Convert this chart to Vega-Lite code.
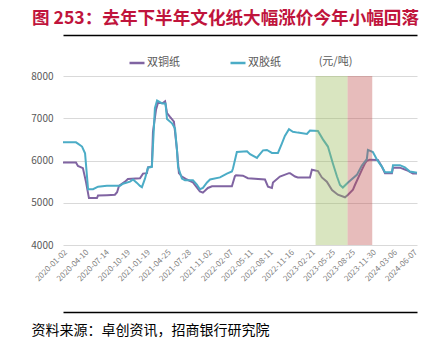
{
  "$schema": "https://vega.github.io/schema/vega-lite/v6.json",
  "width": 354,
  "height": 169,
  "autosize": {"type": "none"},
  "padding": {"left": 63, "top": 76, "right": 22, "bottom": 106},
  "background": "white",
  "config": {
    "view": {"stroke": null},
    "font": "Noto Sans CJK SC"
  },
  "title": {
    "text": "图 253：去年下半年文化纸大幅涨价今年小幅回落",
    "anchor": "start",
    "frame": "group",
    "dx": -31,
    "dy": -3,
    "font": "Noto Sans CJK SC",
    "fontSize": 17.6,
    "fontWeight": "bold",
    "color": "#C0143C"
  },
  "resolve": {"axis": {"x": "independent", "y": "independent"}},
  "datasets": {
    "prices": [
      {"date": "2020-01-02", "series": "双铜纸", "price": 5950},
      {"date": "2020-03-02", "series": "双铜纸", "price": 5950},
      {"date": "2020-03-11", "series": "双铜纸", "price": 5870},
      {"date": "2020-04-03", "series": "双铜纸", "price": 5820},
      {"date": "2020-04-17", "series": "双铜纸", "price": 5500},
      {"date": "2020-05-01", "series": "双铜纸", "price": 5110},
      {"date": "2020-06-07", "series": "双铜纸", "price": 5110},
      {"date": "2020-06-12", "series": "双铜纸", "price": 5170},
      {"date": "2020-07-23", "series": "双铜纸", "price": 5180},
      {"date": "2020-08-29", "series": "双铜纸", "price": 5190},
      {"date": "2020-09-08", "series": "双铜纸", "price": 5250},
      {"date": "2020-09-17", "series": "双铜纸", "price": 5400},
      {"date": "2020-10-15", "series": "双铜纸", "price": 5500},
      {"date": "2020-10-28", "series": "双铜纸", "price": 5560},
      {"date": "2020-12-23", "series": "双铜纸", "price": 5580},
      {"date": "2021-01-06", "series": "双铜纸", "price": 5690},
      {"date": "2021-01-24", "series": "双铜纸", "price": 5700},
      {"date": "2021-01-29", "series": "双铜纸", "price": 5840},
      {"date": "2021-02-16", "series": "双铜纸", "price": 5860},
      {"date": "2021-02-21", "series": "双铜纸", "price": 6680},
      {"date": "2021-03-07", "series": "双铜纸", "price": 7200},
      {"date": "2021-03-16", "series": "双铜纸", "price": 7360},
      {"date": "2021-04-08", "series": "双铜纸", "price": 7360},
      {"date": "2021-04-18", "series": "双铜纸", "price": 7400},
      {"date": "2021-04-27", "series": "双铜纸", "price": 7120},
      {"date": "2021-05-11", "series": "双铜纸", "price": 7030},
      {"date": "2021-05-29", "series": "双铜纸", "price": 6920},
      {"date": "2021-06-12", "series": "双铜纸", "price": 6250},
      {"date": "2021-06-21", "series": "双铜纸", "price": 5700},
      {"date": "2021-07-05", "series": "双铜纸", "price": 5620},
      {"date": "2021-07-28", "series": "双铜纸", "price": 5550},
      {"date": "2021-08-25", "series": "双铜纸", "price": 5480},
      {"date": "2021-09-26", "series": "双铜纸", "price": 5270},
      {"date": "2021-10-10", "series": "双铜纸", "price": 5240},
      {"date": "2021-11-02", "series": "双铜纸", "price": 5350},
      {"date": "2021-11-21", "series": "双铜纸", "price": 5390},
      {"date": "2022-02-21", "series": "双铜纸", "price": 5390},
      {"date": "2022-03-07", "series": "双铜纸", "price": 5630},
      {"date": "2022-03-12", "series": "双铜纸", "price": 5650},
      {"date": "2022-04-13", "series": "双铜纸", "price": 5640},
      {"date": "2022-05-06", "series": "双铜纸", "price": 5580},
      {"date": "2022-07-24", "series": "双铜纸", "price": 5550},
      {"date": "2022-08-07", "series": "双铜纸", "price": 5380},
      {"date": "2022-08-25", "series": "双铜纸", "price": 5350},
      {"date": "2022-08-30", "series": "双铜纸", "price": 5480},
      {"date": "2022-10-01", "series": "双铜纸", "price": 5620},
      {"date": "2022-11-12", "series": "双铜纸", "price": 5700},
      {"date": "2022-11-17", "series": "双铜纸", "price": 5700},
      {"date": "2022-12-10", "series": "双铜纸", "price": 5620},
      {"date": "2022-12-23", "series": "双铜纸", "price": 5600},
      {"date": "2023-02-17", "series": "双铜纸", "price": 5600},
      {"date": "2023-02-26", "series": "双铜纸", "price": 5780},
      {"date": "2023-03-26", "series": "双铜纸", "price": 5750},
      {"date": "2023-04-13", "series": "双铜纸", "price": 5600},
      {"date": "2023-05-06", "series": "双铜纸", "price": 5500},
      {"date": "2023-05-30", "series": "双铜纸", "price": 5300},
      {"date": "2023-06-26", "series": "双铜纸", "price": 5190},
      {"date": "2023-07-29", "series": "双铜纸", "price": 5130},
      {"date": "2023-08-12", "series": "双铜纸", "price": 5190},
      {"date": "2023-09-04", "series": "双铜纸", "price": 5310},
      {"date": "2023-09-13", "series": "双铜纸", "price": 5420},
      {"date": "2023-10-15", "series": "双铜纸", "price": 5780},
      {"date": "2023-10-29", "series": "双铜纸", "price": 5930},
      {"date": "2023-11-07", "series": "双铜纸", "price": 5990},
      {"date": "2023-11-21", "series": "双铜纸", "price": 6020},
      {"date": "2023-12-28", "series": "双铜纸", "price": 6010},
      {"date": "2024-01-16", "series": "双铜纸", "price": 5850},
      {"date": "2024-01-30", "series": "双铜纸", "price": 5700},
      {"date": "2024-03-02", "series": "双铜纸", "price": 5700},
      {"date": "2024-03-07", "series": "双铜纸", "price": 5830},
      {"date": "2024-04-08", "series": "双铜纸", "price": 5830},
      {"date": "2024-05-10", "series": "双铜纸", "price": 5770},
      {"date": "2024-06-07", "series": "双铜纸", "price": 5690},
      {"date": "2024-06-26", "series": "双铜纸", "price": 5690},
      {"date": "2020-01-02", "series": "双胶纸", "price": 6430},
      {"date": "2020-03-02", "series": "双胶纸", "price": 6430},
      {"date": "2020-03-11", "series": "双胶纸", "price": 6400},
      {"date": "2020-03-30", "series": "双胶纸", "price": 6330},
      {"date": "2020-04-13", "series": "双胶纸", "price": 6170},
      {"date": "2020-04-27", "series": "双胶纸", "price": 5320},
      {"date": "2020-05-20", "series": "双胶纸", "price": 5320},
      {"date": "2020-06-12", "series": "双胶纸", "price": 5380},
      {"date": "2020-07-23", "series": "双胶纸", "price": 5400},
      {"date": "2020-09-22", "series": "双胶纸", "price": 5400},
      {"date": "2020-10-05", "series": "双胶纸", "price": 5450},
      {"date": "2020-11-07", "series": "双胶纸", "price": 5500},
      {"date": "2020-11-21", "series": "双胶纸", "price": 5550},
      {"date": "2020-12-09", "series": "双胶纸", "price": 5470},
      {"date": "2020-12-23", "series": "双胶纸", "price": 5400},
      {"date": "2021-01-01", "series": "双胶纸", "price": 5370},
      {"date": "2021-01-15", "series": "双胶纸", "price": 5570},
      {"date": "2021-01-29", "series": "双胶纸", "price": 5830},
      {"date": "2021-02-16", "series": "双胶纸", "price": 5850},
      {"date": "2021-03-02", "series": "双胶纸", "price": 7240},
      {"date": "2021-03-12", "series": "双胶纸", "price": 7420},
      {"date": "2021-04-04", "series": "双胶纸", "price": 7350},
      {"date": "2021-04-20", "series": "双胶纸", "price": 7350},
      {"date": "2021-04-27", "series": "双胶纸", "price": 6980},
      {"date": "2021-05-20", "series": "双胶纸", "price": 6880},
      {"date": "2021-06-03", "series": "双胶纸", "price": 6760},
      {"date": "2021-06-12", "series": "双胶纸", "price": 6250},
      {"date": "2021-06-17", "series": "双胶纸", "price": 5850},
      {"date": "2021-07-05", "series": "双胶纸", "price": 5570},
      {"date": "2021-07-19", "series": "双胶纸", "price": 5530},
      {"date": "2021-08-25", "series": "双胶纸", "price": 5530},
      {"date": "2021-09-12", "series": "双胶纸", "price": 5430},
      {"date": "2021-09-26", "series": "双胶纸", "price": 5320},
      {"date": "2021-10-10", "series": "双胶纸", "price": 5350},
      {"date": "2021-10-29", "series": "双胶纸", "price": 5480},
      {"date": "2021-11-12", "series": "双胶纸", "price": 5550},
      {"date": "2021-12-28", "series": "双胶纸", "price": 5600},
      {"date": "2022-01-29", "series": "双胶纸", "price": 5690},
      {"date": "2022-02-21", "series": "双胶纸", "price": 5740},
      {"date": "2022-02-26", "series": "双胶纸", "price": 5810},
      {"date": "2022-03-16", "series": "双胶纸", "price": 6200},
      {"date": "2022-05-02", "series": "双胶纸", "price": 6220},
      {"date": "2022-05-16", "series": "双胶纸", "price": 6150},
      {"date": "2022-06-17", "series": "双胶纸", "price": 6060},
      {"date": "2022-06-21", "series": "双胶纸", "price": 6090},
      {"date": "2022-07-15", "series": "双胶纸", "price": 6240},
      {"date": "2022-08-02", "series": "双胶纸", "price": 6250},
      {"date": "2022-08-25", "series": "双胶纸", "price": 6180},
      {"date": "2022-09-22", "series": "双胶纸", "price": 6180},
      {"date": "2022-10-10", "series": "双胶纸", "price": 6400},
      {"date": "2022-10-24", "series": "双胶纸", "price": 6580},
      {"date": "2022-11-12", "series": "双胶纸", "price": 6740},
      {"date": "2022-11-30", "series": "双胶纸", "price": 6680},
      {"date": "2022-12-23", "series": "双胶纸", "price": 6660},
      {"date": "2023-02-03", "series": "双胶纸", "price": 6630},
      {"date": "2023-02-17", "series": "双胶纸", "price": 6710},
      {"date": "2023-03-26", "series": "双胶纸", "price": 6700},
      {"date": "2023-04-18", "series": "双胶纸", "price": 6500},
      {"date": "2023-05-11", "series": "双胶纸", "price": 6330},
      {"date": "2023-06-03", "series": "双胶纸", "price": 5930},
      {"date": "2023-06-22", "series": "双胶纸", "price": 5620},
      {"date": "2023-07-06", "series": "双胶纸", "price": 5420},
      {"date": "2023-07-19", "series": "双胶纸", "price": 5360},
      {"date": "2023-08-12", "series": "双胶纸", "price": 5480},
      {"date": "2023-09-22", "series": "双胶纸", "price": 5660},
      {"date": "2023-10-15", "series": "双胶纸", "price": 5880},
      {"date": "2023-11-07", "series": "双胶纸", "price": 6030},
      {"date": "2023-11-12", "series": "双胶纸", "price": 6250},
      {"date": "2023-12-05", "series": "双胶纸", "price": 6200},
      {"date": "2023-12-24", "series": "双胶纸", "price": 6020},
      {"date": "2024-01-16", "series": "双胶纸", "price": 5850},
      {"date": "2024-01-30", "series": "双胶纸", "price": 5720},
      {"date": "2024-03-02", "series": "双胶纸", "price": 5720},
      {"date": "2024-03-07", "series": "双胶纸", "price": 5890},
      {"date": "2024-04-08", "series": "双胶纸", "price": 5890},
      {"date": "2024-05-01", "series": "双胶纸", "price": 5840},
      {"date": "2024-05-24", "series": "双胶纸", "price": 5740},
      {"date": "2024-06-26", "series": "双胶纸", "price": 5710}
    ],
    "phases": [
      {"date": "2023-03-15", "end": "2023-08-10", "phase": "上行前"},
      {"date": "2023-08-10", "end": "2023-12-02", "phase": "涨价"}
    ]
  },
  "layer": [
    {
      "data": {"name": "prices"},
      "mark": {"type": "line", "strokeWidth": 2, "interpolate": "linear"},
      "encoding": {
        "x": {
          "field": "date",
          "type": "temporal",
          "scale": {
            "type": "utc",
            "domain": [
              {"year": 2020, "month": 1, "date": 2, "utc": true},
              {"year": 2024, "month": 6, "date": 26, "utc": true}
            ]
          },
          "axis": {
            "values": [
              {"year": 2020, "month": 1, "date": 2, "utc": true},
              {"year": 2020, "month": 4, "date": 10, "utc": true},
              {"year": 2020, "month": 7, "date": 14, "utc": true},
              {"year": 2020, "month": 10, "date": 19, "utc": true},
              {"year": 2021, "month": 1, "date": 19, "utc": true},
              {"year": 2021, "month": 4, "date": 25, "utc": true},
              {"year": 2021, "month": 7, "date": 28, "utc": true},
              {"year": 2021, "month": 11, "date": 2, "utc": true},
              {"year": 2022, "month": 2, "date": 7, "utc": true},
              {"year": 2022, "month": 5, "date": 11, "utc": true},
              {"year": 2022, "month": 8, "date": 11, "utc": true},
              {"year": 2022, "month": 11, "date": 16, "utc": true},
              {"year": 2023, "month": 2, "date": 21, "utc": true},
              {"year": 2023, "month": 5, "date": 25, "utc": true},
              {"year": 2023, "month": 8, "date": 25, "utc": true},
              {"year": 2023, "month": 11, "date": 30, "utc": true},
              {"year": 2024, "month": 3, "date": 6, "utc": true},
              {"year": 2024, "month": 6, "date": 7, "utc": true}
            ],
            "labelExpr": "utcFormat(datum.value, '%Y-%m-%d')",
            "labelAngle": -45,
            "labelFontSize": 8,
            "labelColor": "#7F7F7F",
            "labelPadding": 3,
            "labelOverlap": false,
            "labelFlush": false,
            "labelBound": false,
            "domain": false,
            "ticks": false,
            "grid": false,
            "title": "资料来源：卓创资讯，招商银行研究院",
            "titleX": -32,
            "titleY": 85,
            "titleAlign": "left",
            "titleBaseline": "middle",
            "titleFontSize": 14,
            "titleFontWeight": "normal",
            "titleColor": "#000000"
          }
        },
        "y": {
          "field": "price",
          "type": "quantitative",
          "scale": {"domain": [4000, 8000], "nice": false, "zero": false},
          "axis": {
            "values": [4000, 5000, 6000, 7000, 8000],
            "format": "d",
            "labelFontSize": 10,
            "labelColor": "#595959",
            "labelPadding": 10,
            "domain": false,
            "ticks": false,
            "grid": true,
            "gridColor": "#D9D9D9",
            "gridWidth": 1,
            "title": "(元/吨)",
            "titleAngle": 0,
            "titleX": 272,
            "titleY": -15,
            "titleAlign": "center",
            "titleBaseline": "middle",
            "titleFontSize": 11,
            "titleFontWeight": "normal",
            "titleColor": "#595959"
          }
        },
        "color": {
          "field": "series",
          "type": "nominal",
          "scale": {"domain": ["双铜纸", "双胶纸"], "range": ["#8064A2", "#4BACC6"]},
          "legend": {
            "orient": "none",
            "legendX": 65,
            "legendY": -22,
            "direction": "horizontal",
            "title": null,
            "symbolType": "stroke",
            "symbolStrokeWidth": 2.5,
            "symbolSize": 225,
            "labelFontSize": 11,
            "labelColor": "#595959",
            "labelOffset": 1,
            "columnPadding": 45
          }
        }
      }
    },
    {
      "data": {"name": "phases"},
      "mark": {"type": "rect", "opacity": 0.38},
      "encoding": {
        "x": {
          "field": "date",
          "type": "temporal",
          "axis": {
            "orient": "top",
            "offset": 41,
            "domain": true,
            "domainColor": "#000000",
            "domainWidth": 1.5,
            "labels": false,
            "ticks": false,
            "grid": false,
            "title": null
          }
        },
        "x2": {"field": "end"},
        "fill": {
          "field": "phase",
          "type": "nominal",
          "scale": {"domain": ["上行前", "涨价"], "range": ["#9BBB59", "#C0504D"]},
          "legend": null
        }
      }
    },
    {
      "data": {"name": "phases"},
      "mark": {"type": "rect", "opacity": 0},
      "encoding": {
        "x": {
          "field": "date",
          "type": "temporal",
          "axis": {
            "orient": "bottom",
            "offset": 67,
            "domain": true,
            "domainColor": "#000000",
            "domainWidth": 1.5,
            "labels": false,
            "ticks": false,
            "grid": false,
            "title": null
          }
        },
        "x2": {"field": "end"}
      }
    }
  ]
}
